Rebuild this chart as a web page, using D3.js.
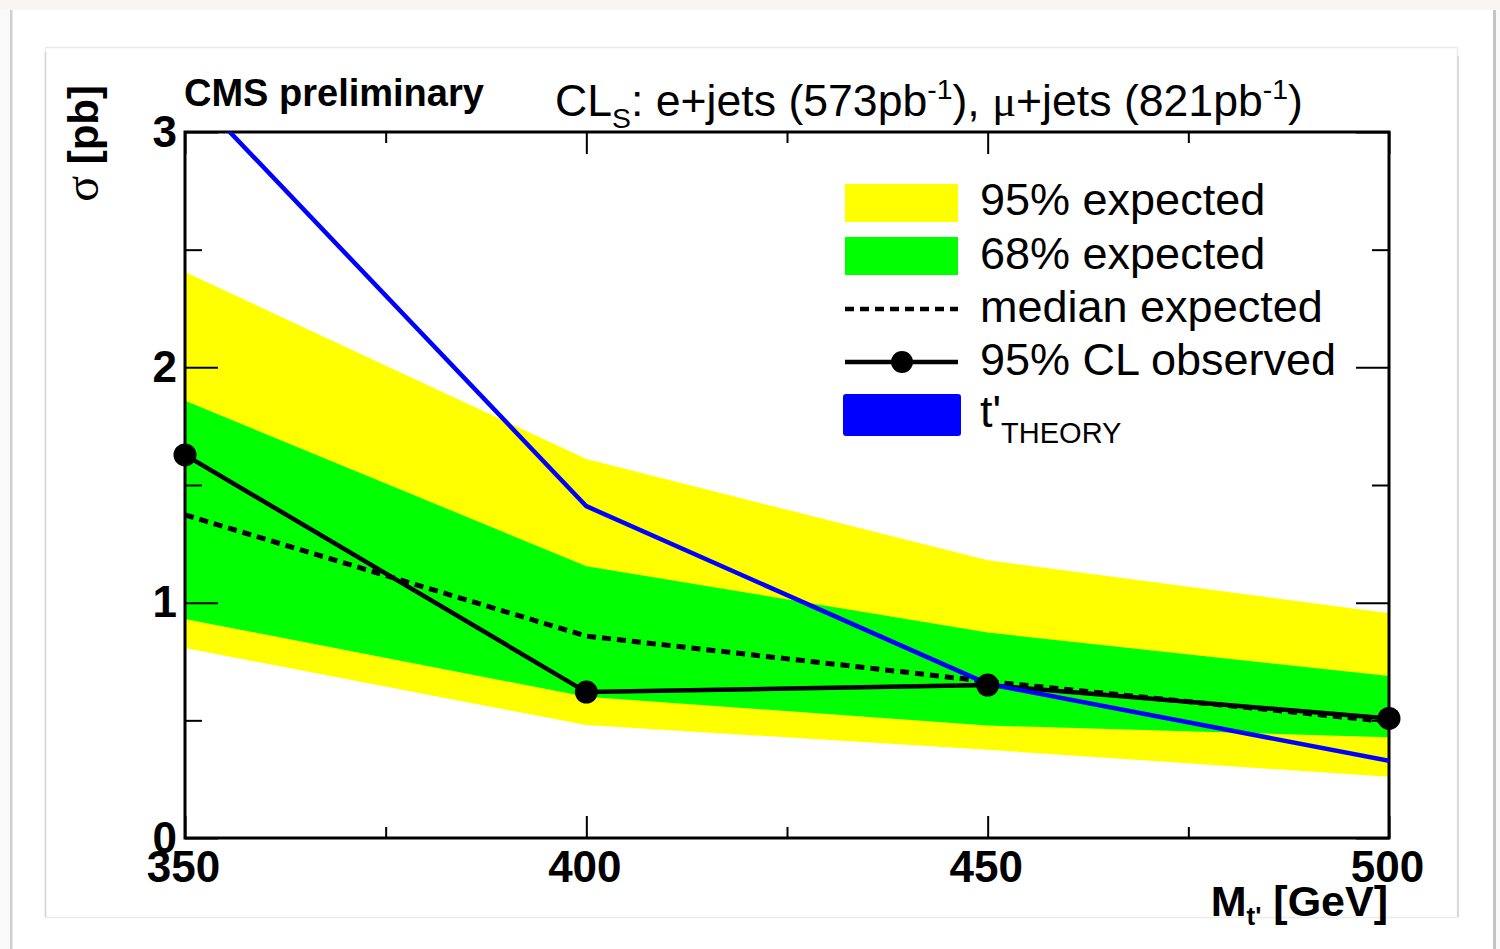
<!DOCTYPE html>
<html>
<head>
<meta charset="utf-8">
<script src="https://cdn.jsdelivr.net/npm/d3@7"></script>
<style>
  html, body { margin: 0; padding: 0; background: #f7f6f4; }
  svg { display: block; font-family: "Liberation Sans", Arial, sans-serif; }
  text { white-space: pre; }
</style>
</head>
<body>
<svg id="chart" width="1500" height="949"></svg>
<script>
// ---- data ----
const masses = [350, 400, 450, 500];
const band95Upper = [2.405, 1.61, 1.18, 0.955];
const band95Lower = [0.807, 0.48, 0.375, 0.26];
const band68Upper = [1.858, 1.155, 0.873, 0.688];
const band68Lower = [0.931, 0.60, 0.478, 0.428];
const medianExpected = [1.373, 0.858, 0.665, 0.494];
const observed = [1.628, 0.62, 0.65, 0.508];
const theory = [3.2, 1.41, 0.655, 0.328];

const xMajorTicks = [350, 400, 450, 500];
const xMinorTicks = [375, 425, 475];
const yMajorTicks = [0, 1, 2, 3];
const yMinorTicks = [0.5, 1.5, 2.5];

const legendLabels = ["95% expected", "68% expected", "median expected", "95% CL observed", "t'"];

// ---- layout ----
const svg = d3.select("#chart");
const L = 185, R = 1389, T = 132, B = 838;
const x = d3.scaleLinear().domain([350, 500]).range([L, R]);
const y = d3.scaleLinear().domain([0, 3]).range([B, T]);

// page background pieces
svg.append("rect").attr("x", 0).attr("y", 10).attr("width", 1500).attr("height", 939).attr("fill", "#f9f9f9");
svg.append("rect").attr("x", 12).attr("y", 10).attr("width", 1481).attr("height", 939).attr("fill", "#ffffff");
svg.append("rect").attr("x", 10).attr("y", 10).attr("width", 2.5).attr("height", 939).attr("fill", "#cfcfcf");
svg.append("rect").attr("x", 1493).attr("y", 10).attr("width", 3).attr("height", 939).attr("fill", "#c4c4c4");
svg.append("rect").attr("x", 45.5).attr("y", 47.5).attr("width", 1412).attr("height", 870)
  .attr("fill", "#ffffff").attr("stroke", "#ececec").attr("stroke-width", 1.5);
svg.append("line").attr("x1", 45.5).attr("x2", 45.5).attr("y1", 52).attr("y2", 917).attr("stroke", "#d6d6d6").attr("stroke-width", 1.5);
svg.append("line").attr("x1", 1458).attr("x2", 1458).attr("y1", 56).attr("y2", 917).attr("stroke", "#d0d0d0").attr("stroke-width", 1.5);

// clip
svg.append("defs").append("clipPath").attr("id", "plotclip")
  .append("rect").attr("x", L).attr("y", T).attr("width", R - L).attr("height", B - T);

const plot = svg.append("g").attr("clip-path", "url(#plotclip)");

const area = (lo, hi) => d3.area()
  .x((d, i) => x(masses[i]))
  .y0((d, i) => y(lo[i]))
  .y1((d, i) => y(hi[i]));

plot.append("path").attr("d", area(band95Lower, band95Upper)(masses)).attr("fill", "#ffff00");
plot.append("path").attr("d", area(band68Lower, band68Upper)(masses)).attr("fill", "#00ff00");

// ---- axes / frame ----
function styleAxis(g, fontSize) {
  g.select(".domain").remove();
  g.selectAll(".tick line").attr("stroke", "#000").attr("stroke-width", 2);
  g.selectAll(".tick text").attr("fill", "#000").attr("font-weight", "bold")
    .attr("font-size", fontSize).attr("font-family", "'Liberation Sans', Arial, sans-serif");
}
const fmt = d3.format("d");
svg.append("g").attr("transform", `translate(0,${B})`)
  .call(d3.axisBottom(x).tickValues(xMajorTicks).tickSize(-22).tickPadding(13).tickFormat(fmt))
  .call(g => styleAxis(g, 44))
  .call(g => g.selectAll(".tick text").attr("dx", -2));
svg.append("g").attr("transform", `translate(0,${B})`)
  .call(d3.axisBottom(x).tickValues(xMinorTicks).tickSize(-11).tickFormat(""))
  .call(g => styleAxis(g, 44));
svg.append("g").attr("transform", `translate(0,${T})`)
  .call(d3.axisTop(x).tickValues(xMajorTicks).tickSize(-22).tickFormat(""))
  .call(g => styleAxis(g, 44));
svg.append("g").attr("transform", `translate(0,${T})`)
  .call(d3.axisTop(x).tickValues(xMinorTicks).tickSize(-11).tickFormat(""))
  .call(g => styleAxis(g, 44));
svg.append("g").attr("transform", `translate(${L},0)`)
  .call(d3.axisLeft(y).tickValues(yMajorTicks).tickSize(-33).tickPadding(8).tickFormat(fmt))
  .call(g => styleAxis(g, 44));
svg.append("g").attr("transform", `translate(${L},0)`)
  .call(d3.axisLeft(y).tickValues(yMinorTicks).tickSize(-17).tickFormat(""))
  .call(g => styleAxis(g, 44));
svg.append("g").attr("transform", `translate(${R},0)`)
  .call(d3.axisRight(y).tickValues(yMajorTicks).tickSize(-33).tickFormat(""))
  .call(g => styleAxis(g, 44));
svg.append("g").attr("transform", `translate(${R},0)`)
  .call(d3.axisRight(y).tickValues(yMinorTicks).tickSize(-17).tickFormat(""))
  .call(g => styleAxis(g, 44));

svg.append("rect").attr("x", L).attr("y", T).attr("width", R - L).attr("height", B - T)
  .attr("fill", "none").attr("stroke", "#000").attr("stroke-width", 3);

// ---- lines ----
const line = vals => d3.line().x((d, i) => x(masses[i])).y((d, i) => y(vals[i]))(masses);
const lines = svg.append("g").attr("clip-path", "url(#plotclip)");
lines.append("path").attr("d", line(medianExpected)).attr("fill", "none")
  .attr("stroke", "#000").attr("stroke-width", 5).attr("stroke-dasharray", "9,6");
lines.append("path").attr("d", line(observed)).attr("fill", "none")
  .attr("stroke", "#000").attr("stroke-width", 4.5);
svg.append("g").selectAll("circle").data(observed).join("circle")
  .attr("cx", (d, i) => x(masses[i])).attr("cy", d => y(d)).attr("r", 11.5).attr("fill", "#000");
lines.append("path").attr("d", line(theory)).attr("fill", "none")
  .attr("stroke", "#0000ff").attr("stroke-width", 4.5).attr("stroke-linejoin", "round");

// ---- legend ----
const lg = svg.append("g");
const lx0 = 845, lx1 = 958, tx = 980;
const rowBase = [215, 269, 322, 375, 427];
lg.append("rect").attr("x", lx0).attr("y", 184).attr("width", lx1 - lx0).attr("height", 38).attr("fill", "#ffff00");
lg.append("rect").attr("x", lx0).attr("y", 237).attr("width", lx1 - lx0).attr("height", 38).attr("fill", "#00ff00");
lg.append("line").attr("x1", lx0).attr("x2", lx1).attr("y1", 309).attr("y2", 309)
  .attr("stroke", "#000").attr("stroke-width", 4.5).attr("stroke-dasharray", "9,6");
lg.append("line").attr("x1", lx0).attr("x2", lx1).attr("y1", 362).attr("y2", 362)
  .attr("stroke", "#000").attr("stroke-width", 4.5);
lg.append("circle").attr("cx", 902).attr("cy", 362).attr("r", 11).attr("fill", "#000");
lg.append("rect").attr("x", 843).attr("y", 394).attr("width", 118).attr("height", 42).attr("rx", 3).attr("fill", "#0000ff");
legendLabels.forEach((t, i) => {
  const te = lg.append("text").attr("x", tx).attr("y", rowBase[i]).attr("font-size", 45).attr("fill", "#000").text(t);
  if (i === 4) {
    te.append("tspan").attr("font-size", 29).attr("dy", 16).text("THEORY");
  }
});

// ---- texts ----
svg.append("text").attr("x", 184).attr("y", 106).attr("font-size", 38).attr("font-weight", "bold")
  .attr("fill", "#000").text("CMS preliminary");

const title = svg.append("text").attr("x", 555).attr("y", 116).attr("font-size", 44).attr("fill", "#000");
title.append("tspan").text("CL");
title.append("tspan").attr("font-size", 28).attr("dy", 12).text("S");
title.append("tspan").attr("dy", -12).text(": e+jets (573pb");
title.append("tspan").attr("font-size", 28).attr("dy", -17).text("-1");
title.append("tspan").attr("dy", 17).text("), ");
title.append("tspan").attr("font-family", "'Liberation Serif', serif").text("μ");
title.append("tspan").text("+jets (821pb");
title.append("tspan").attr("font-size", 28).attr("dy", -17).text("-1");
title.append("tspan").attr("dy", 17).text(")");
// fit to reference width
const tw = title.node().getComputedTextLength();
const targetW = 748;
if (tw > 0) title.attr("transform", `translate(555,0) scale(${targetW / tw},1) translate(-555,0)`);

const xt = svg.append("text").attr("x", R - 1).attr("y", 916).attr("text-anchor", "end")
  .attr("font-size", 43).attr("font-weight", "bold").attr("fill", "#000");
xt.append("tspan").text("M");
xt.append("tspan").attr("font-size", 26).attr("dy", 9).text("t'");
xt.append("tspan").attr("dy", -9).text(" [GeV]");

const yt = svg.append("text").attr("transform", "translate(98,85) rotate(-90)")
  .attr("text-anchor", "end").attr("font-size", 42).attr("font-weight", "bold").attr("fill", "#000");
yt.append("tspan").attr("font-family", "'Liberation Serif', serif").attr("font-weight", "normal").attr("font-size", 48).text("σ");
yt.append("tspan").text(" [pb]");
</script>
</body>
</html>
